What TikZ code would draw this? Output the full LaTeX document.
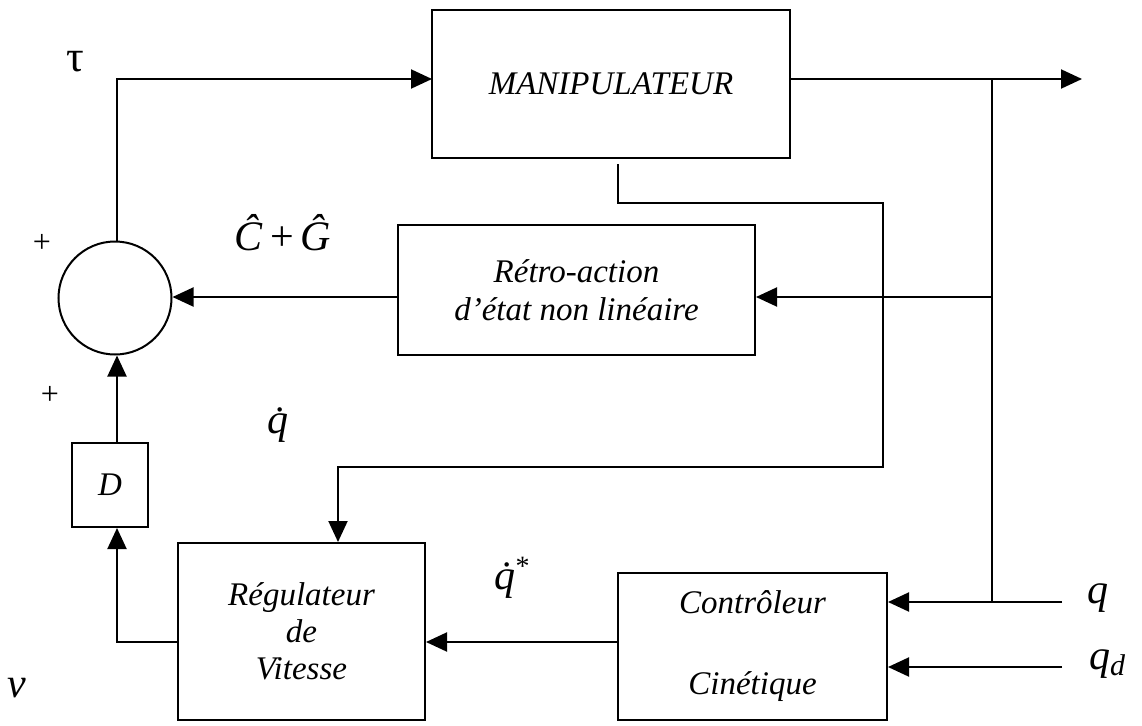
\documentclass[tikz,border=0pt]{standalone}
\usepackage{fontspec}
\setmainfont{Liberation Serif}
\usetikzlibrary{arrows.meta}
\begin{document}
\begin{tikzpicture}[x=1pt,y=-1pt,
  line width=2pt,
  arr/.style={-{Triangle[length=21pt,width=19pt]}},
  blk/.style={draw,rectangle,inner sep=0pt,align=center,font=\fontsize{33}{38}\selectfont\itshape},
  lbl/.style={inner sep=0pt,font=\fontsize{42}{46}\selectfont\itshape},
  pls/.style={inner sep=0pt,font=\fontsize{32}{34}\selectfont}]
\useasboundingbox (0,0) rectangle (1142,725);
% blocks
\node[blk,minimum width=358pt,minimum height=148pt] (manip) at (611,84) {\raisebox{-6pt}{MANIPULATEUR}};
\node[blk,minimum width=357pt,minimum height=130pt] (retro) at (576.5,290) {Rétro-action\\[0pt]d’état non linéaire};
\node[draw,circle,minimum size=113pt,inner sep=0pt] (sum) at (115,298) {};
\node[blk,minimum width=76pt,minimum height=84pt] (D) at (110,485) {D};
\node[blk,minimum width=247pt,minimum height=177pt,font=\fontsize{33}{37}\selectfont\itshape] (reg) at (301.5,631.5) {Régulateur\\de\\Vitesse};
\node[blk,minimum width=269pt,minimum height=147pt,font=\fontsize{33}{81}\selectfont\itshape] (ctrl) at (752.5,646.5) {Contrôleur\\Cinétique};
% helper coordinates
\coordinate (in) at (432,79);
\coordinate (out) at (1082,79);
\coordinate (br) at (992,79);
\coordinate (fb) at (992,297);
\coordinate (qin) at (1062,602);
\coordinate (qdin) at (1062,667);
\coordinate (m1) at (618,164);
\coordinate (m2) at (883,203);
\coordinate (m3) at (338,467);
\coordinate (lowy) at (0,642);
\coordinate (sx) at (117,0);
% connectors
\draw[arr] (sum.north -| sx) |- (in);
\draw[arr] (manip.east |- out) -- (out);
\draw (br) -- (br |- qin);
\draw[arr] (fb) -- (retro.east |- fb);
\draw[arr] (retro.west |- fb) -- (sum.east |- fb);
\draw[arr] (qin) -- (ctrl.east |- qin);
\draw[arr] (qdin) -- (ctrl.east |- qdin);
\draw[arr] (m1) |- (m2) |- (m3) -- (reg.north -| m3);
\draw[arr] (ctrl.west |- lowy) -- (reg.east |- lowy);
\draw[arr] (reg.west |- lowy) -| (D.south -| sx);
\draw[arr] (D.north -| sx) -- (sum.south -| sx);
% labels
\node[lbl,font=\fontsize{44}{46}\selectfont] (tau) at (75,62) {τ};
\node[pls] (p1) at (42,243) {+};
\node[pls] (p2) at (50,395) {+};
\node[lbl] (cg) at (283,233) {Ĉ\,{\upshape +}\,Ĝ};
\node[lbl] (qd) at (278,425) {\.{q}};
\node[lbl] (qds) at (512,578) {\.{q}\raisebox{14pt}{\fontsize{28}{28}\selectfont\upshape *}};
\node[lbl] (v) at (17,688) {v};
\node[lbl] (q) at (1098,598) {q};
\node[lbl] (qdes) at (1107,664) {q\raisebox{-6pt}{\fontsize{30}{30}\selectfont d}};
\end{tikzpicture}
\end{document}
